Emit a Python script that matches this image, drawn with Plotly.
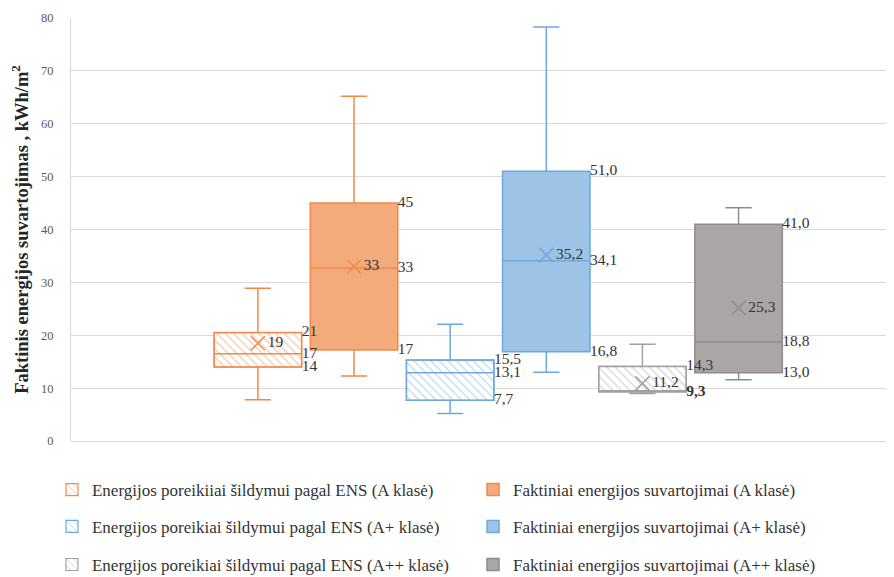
import plotly.graph_objects as go

# ---- data ----
series = [
    "Energijos poreikiiai šildymui pagal ENS (A klasė)",
    "Faktiniai energijos suvartojimai (A klasė)",
    "Energijos poreikiai šildymui pagal ENS (A+ klasė)",
    "Faktiniai energijos suvartojimai (A+ klasė)",
    "Energijos poreikiai šildymui pagal ENS (A++ klasė)",
    "Faktiniai energijos suvartojimai (A++ klasė)",
]
hatched = [True, False, True, False, True, False]
lower_whisker = [7.8, 12.3, 5.2, 13.0, 9.0, 11.6]
q1 = [14.0, 17.2, 7.7, 16.9, 9.3, 12.9]
median = [16.5, 32.7, 12.9, 34.1, 9.3, 18.7]
q3 = [20.5, 45.0, 15.3, 51.0, 14.1, 41.0]
upper_whisker = [28.9, 65.2, 22.1, 78.3, 18.3, 44.1]
mean = [18.5, 33.0, None, 35.2, 10.9, 25.2]
mean_labels = ["19", "33", "", "35,2", "11,2", "25,3"]
q3_labels = ["21", "45", "15,5", "51,0", "14,3", "41,0"]
median_labels = ["17", "33", "13,1", "34,1", "", "18,8"]
q1_labels = ["14", "17", "7,7", "16,8", "<b>9,3</b>", "13,0"]

line_colors = ["#EF8A4A", "#EF8A4A", "#6FA8DC", "#6FA8DC", "#A0A0A0", "#8E8B8B"]
fill_colors = ["#F3AB7C", "#F3AB7C", "#9DC3E6", "#9DC3E6", "#C8C8C8", "#AAA6A6"]
hatch_colors = ["#F5BE9A", "#F5BE9A", "#B3D1EC", "#B3D1EC", "#CCCCCC", "#CCCCCC"]

SERIF = "Liberation Serif"
BOX_W = 0.91
fig = go.Figure()

legend_pos = [(-0.0229, -0.116), (0.4838, -0.116),
              (-0.0229, -0.203), (0.4838, -0.203),
              (-0.0229, -0.293), (0.4838, -0.293)]
legend_names = ["legend", "legend2", "legend3", "legend4", "legend5", "legend6"]

for i, name in enumerate(series):
    lg = legend_names[i]
    if hatched[i]:
        fig.add_trace(go.Bar(
            x=[i], y=[q3[i] - q1[i]], base=[q1[i]], width=BOX_W,
            name=name, legend=lg, showlegend=True,
            marker=dict(color="white",
                        line=dict(color=line_colors[i], width=1.2),
                        pattern=dict(shape="\\", fgcolor=hatch_colors[i], bgcolor="white",
                                     size=6, solidity=0.18)),
            hoverinfo="skip",
        ))
    fig.add_trace(go.Box(
        x=[i], q1=[q1[i]], median=[median[i]], q3=[q3[i]],
        lowerfence=[lower_whisker[i]], upperfence=[upper_whisker[i]],
        width=BOX_W, whiskerwidth=0.3,
        name=name, legend=lg, showlegend=not hatched[i],
        fillcolor="rgba(0,0,0,0)" if hatched[i] else fill_colors[i],
        line=dict(color=line_colors[i], width=1.5),
        boxpoints=False,
    ))

# mean markers with labels
for i in range(len(series)):
    if mean[i] is not None:
        fig.add_trace(go.Scatter(
            x=[i], y=[mean[i]], mode="markers+text", text=[mean_labels[i]],
            textposition="middle right",
            textfont=dict(family=SERIF, size=15.5, color="#333333"),
            marker=dict(symbol="x-thin", size=14,
                        line=dict(color=line_colors[i], width=1.5)),
            showlegend=False, hoverinfo="skip",
        ))

# edge labels (right of box)
for i in range(len(series)):
    ys = [q3[i], median[i], q1[i]]
    txt = [q3_labels[i], median_labels[i], q1_labels[i]]
    keep = [k for k in range(3) if txt[k]]
    fig.add_trace(go.Scatter(
        x=[i + BOX_W / 2] * len(keep), y=[ys[k] for k in keep],
        mode="text", text=[txt[k] for k in keep], textposition="middle right",
        textfont=dict(family=SERIF, size=15.5, color="#333333"),
        showlegend=False, hoverinfo="skip",
    ))

layout_legends = {}
for lg, (lx, ly) in zip(legend_names, legend_pos):
    layout_legends[lg] = dict(x=lx, y=ly, xanchor="left", yanchor="middle",
                              orientation="h", bgcolor="rgba(0,0,0,0)",
                              font=dict(family=SERIF, size=17, color="#333333"))

fig.update_layout(
    template="none",
    font=dict(family=SERIF, color="#333333"),
    width=894, height=577,
    margin=dict(l=63, r=0, t=10, b=144, autoexpand=False),
    plot_bgcolor="white", paper_bgcolor="white",
    barmode="overlay", boxmode="overlay",
    xaxis=dict(range=[-1.944, 6.70], showticklabels=False, showgrid=False,
               zeroline=False, showline=False, fixedrange=True, ticks=""),
    yaxis=dict(range=[0, 80], dtick=10, showgrid=True, gridcolor="#D9D9D9",
               gridwidth=1, zeroline=True, zerolinecolor="#D9D9D9",
               showline=True, linecolor="#D9D9D9", linewidth=1, ticks="",
               automargin=False,
               tickfont=dict(family=SERIF, size=12.5, color="#595959"),
               ticklabelstandoff=14,
               title=dict(text="<b>Faktinis energijos suvartojimas , kWh/m<sup>2</sup></b>",
                          font=dict(family=SERIF, size=18.5, color="#262626"),
                          standoff=10)),
    **layout_legends,
)

fig.write_html("out.html")
